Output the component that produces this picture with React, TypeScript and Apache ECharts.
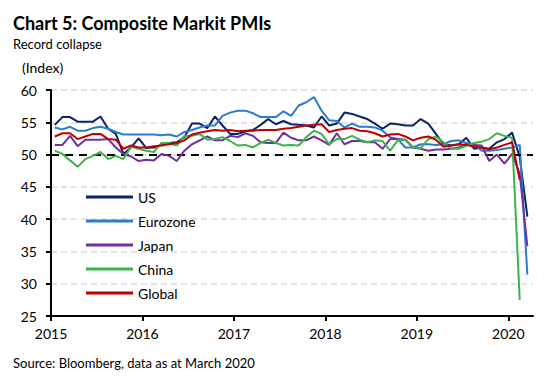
import React, { useEffect, useRef } from "react";
import * as echarts from "echarts";

// Monthly observations, Jan 2015 .. Mar 2020
const START_YEAR = 2015;
const N_MONTHS = 63;
const months: string[] = Array.from({ length: N_MONTHS }, (_, i) =>
  `${START_YEAR + Math.floor(i / 12)}-${String((i % 12) + 1).padStart(2, "0")}`
);

const yearTicks = [2015, 2016, 2017, 2018, 2019, 2020];

const us = [54.6, 55.8, 55.8, 55.1, 55.1, 55.1, 55.9, 54.0, 53.2, 50.1,
  51.1, 52.5, 51.0, 51.1, 51.5, 51.8, 51.9, 52.7, 54.8, 54.8,
  54.1, 55.9, 54.5, 53.2, 53.2, 53.6, 53.8, 54.6, 55.5, 54.7,
  55.2, 54.7, 54.6, 54.5, 54.2, 55.9, 54.5, 54.8, 56.5, 56.3,
  55.9, 55.5, 54.8, 54.0, 54.8, 54.7, 54.5, 54.5, 55.5, 54.8,
  53.2, 51.6, 51.4, 51.6, 52.6, 50.9, 51.1, 50.9, 51.9, 52.4,
  53.4, 49.6, 40.4];

const eurozone = [54.2, 53.9, 54.3, 53.7, 53.7, 54.1, 54.3, 54.0, 53.5, 53.1,
  53.1, 53.1, 53.1, 53.1, 53.0, 53.1, 52.8, 53.5, 53.8, 54.2,
  54.5, 54.5, 56.0, 56.5, 56.8, 56.8, 56.4, 55.8, 55.8, 55.8,
  56.7, 56.0, 57.6, 58.1, 58.9, 56.8, 55.3, 55.2, 54.2, 54.8,
  54.3, 54.3, 54.2, 53.7, 52.7, 52.4, 51.1, 51.1, 51.6, 51.6,
  51.5, 51.6, 52.1, 52.2, 51.8, 51.6, 50.6, 50.6, 50.7, 50.9,
  51.1, 51.5, 31.4];

const japan = [51.5, 51.5, 52.9, 51.3, 52.3, 52.3, 52.3, 52.4, 51.1, 50.1,
  49.7, 49.0, 49.2, 49.1, 50.1, 49.8, 49.0, 50.6, 51.6, 52.2,
  52.8, 52.2, 52.2, 52.9, 52.7, 53.3, 52.9, 51.9, 51.8, 51.8,
  53.4, 52.6, 52.2, 52.2, 52.8, 52.2, 51.5, 53.3, 51.6, 52.1,
  52.1, 51.9, 51.9, 50.9, 52.4, 52.4, 52.3, 51.1, 50.9, 50.6,
  50.8, 50.8, 50.9, 51.1, 51.6, 51.5, 51.4, 49.0, 50.0, 48.6,
  50.1, 47.0, 35.8];

const china = [50.6, 50.1, 49.1, 48.1, 49.3, 49.8, 50.4, 49.3, 49.8, 49.3,
  51.2, 50.9, 50.6, 50.4, 51.8, 51.8, 51.4, 52.9, 52.9, 53.2,
  52.3, 52.4, 52.7, 52.1, 51.4, 51.5, 51.1, 51.8, 52.3, 51.8,
  51.4, 51.5, 51.4, 52.7, 53.7, 53.2, 51.6, 52.4, 52.4, 52.9,
  52.3, 51.9, 52.2, 52.1, 50.6, 52.2, 52.3, 51.1, 51.0, 52.4,
  52.8, 51.9, 50.9, 50.9, 51.4, 51.8, 52.0, 52.4, 53.3, 52.9,
  52.6, 27.5, null];

const global = [52.8, 53.3, 53.3, 52.4, 52.8, 53.2, 53.2, 52.4, 52.3, 50.9,
  51.4, 51.1, 51.1, 51.3, 51.4, 51.6, 51.8, 52.2, 53.1, 53.4,
  53.6, 53.8, 53.7, 53.8, 53.6, 53.7, 53.7, 53.8, 53.8, 53.8,
  54.0, 54.1, 54.3, 54.5, 54.6, 54.7, 53.5, 53.8, 54.0, 54.1,
  53.7, 53.6, 53.3, 52.8, 53.1, 53.2, 52.8, 52.2, 52.6, 52.8,
  52.3, 51.2, 51.4, 51.6, 51.5, 51.2, 51.1, 50.8, 51.1, 51.5,
  51.9, 46.1, null];

const seriesNames = ["US", "Eurozone", "Japan", "China", "Global"];
const seriesValues = [us, eurozone, japan, china, global];
const seriesColors = ["#0a2463", "#2b7bcf", "#7030a0", "#3cb44b", "#c00000"];

// month "YYYY-MM" -> fractional year at mid-month
const toYear = (m: string) => {
  const [y, mo] = m.split("-").map(Number);
  return y + (mo - 0.5) / 12;
};

const FONT = "Lato, 'Open Sans', sans-serif";

export default function App() {
  const ref = useRef<HTMLDivElement>(null);
  useEffect(() => {
    if (!ref.current) return;
    const chart = echarts.init(ref.current, undefined, { renderer: "svg" });
    const series: any[] = seriesNames.map((name, i) => ({
      name,
      type: "line",
      showSymbol: false,
      symbol: "none",
      lineStyle: { width: 2, color: seriesColors[i] },
      itemStyle: { color: seriesColors[i] },
      data: months.map((m, k) => [toYear(m), seriesValues[i][k]]),
      z: 3 + i,
    }));
    series.push({
      name: "threshold",
      type: "line",
      data: [],
      silent: true,
      z: 2,
      markLine: {
        silent: true,
        symbol: "none",
        label: { show: false },
        lineStyle: { color: "#000", width: 2, type: [8, 6] },
        data: [{ yAxis: 50 }],
      },
    });
    chart.setOption({
      animation: false,
      backgroundColor: "#fff",
      textStyle: { fontFamily: FONT },
      title: [
        {
          text: "Chart 5: Composite Markit PMIs",
          left: 13, top: 14, padding: 0,
          textStyle: { fontSize: 18, fontWeight: "bold", color: "#000", fontFamily: FONT },
        },
        {
          text: "Record collapse",
          left: 13, top: 37, padding: 0,
          textStyle: { fontSize: 13, fontWeight: "normal", color: "#000", fontFamily: FONT },
        },
        {
          text: "(Index)",
          left: 22, top: 60, padding: 0,
          textStyle: { fontSize: 14, fontWeight: "normal", color: "#000", fontFamily: FONT },
        },
        {
          text: "Source: Bloomberg, data as at March 2020",
          left: 13, top: 356, padding: 0,
          textStyle: { fontSize: 13, fontWeight: "normal", color: "#000", fontFamily: FONT },
        },
      ],
      legend: {
        data: seriesNames,
        orient: "vertical",
        left: 86,
        top: 189,
        padding: 0,
        itemWidth: 47,
        itemHeight: 3,
        itemGap: 8,
        icon: "rect",
        textStyle: { fontSize: 14, color: "#000", lineHeight: 16, fontFamily: FONT },
      },
      grid: { left: 51, right: 27, top: 90, bottom: 62 },
      xAxis: {
        type: "value",
        min: yearTicks[0],
        max: 2020.27,
        interval: 1,
        axisLine: { lineStyle: { color: "#000", width: 2 } },
        axisTick: { show: true, length: 5, lineStyle: { color: "#000", width: 2 } },
        axisLabel: {
          fontSize: 14, color: "#000", margin: 10,
          showMaxLabel: false,
          formatter: (v: number) => (yearTicks.includes(v) ? String(v) : ""),
        },
        splitLine: { show: false },
      },
      yAxis: {
        type: "value",
        min: 25,
        max: 60,
        interval: 5,
        axisLine: { show: true, lineStyle: { color: "#000", width: 2 } },
        axisTick: { show: true, length: 5, lineStyle: { color: "#000", width: 2 } },
        axisLabel: { fontSize: 14, color: "#000", margin: 14 },
        splitLine: { show: true, lineStyle: { color: "#dcdcdc", width: 1.5, type: [6, 4] } },
      },
      series,
    });
    return () => chart.dispose();
  }, []);
  return <div ref={ref} style={{ width: 560, height: 378, position: "absolute", left: 0, top: 0 }} />;
}
